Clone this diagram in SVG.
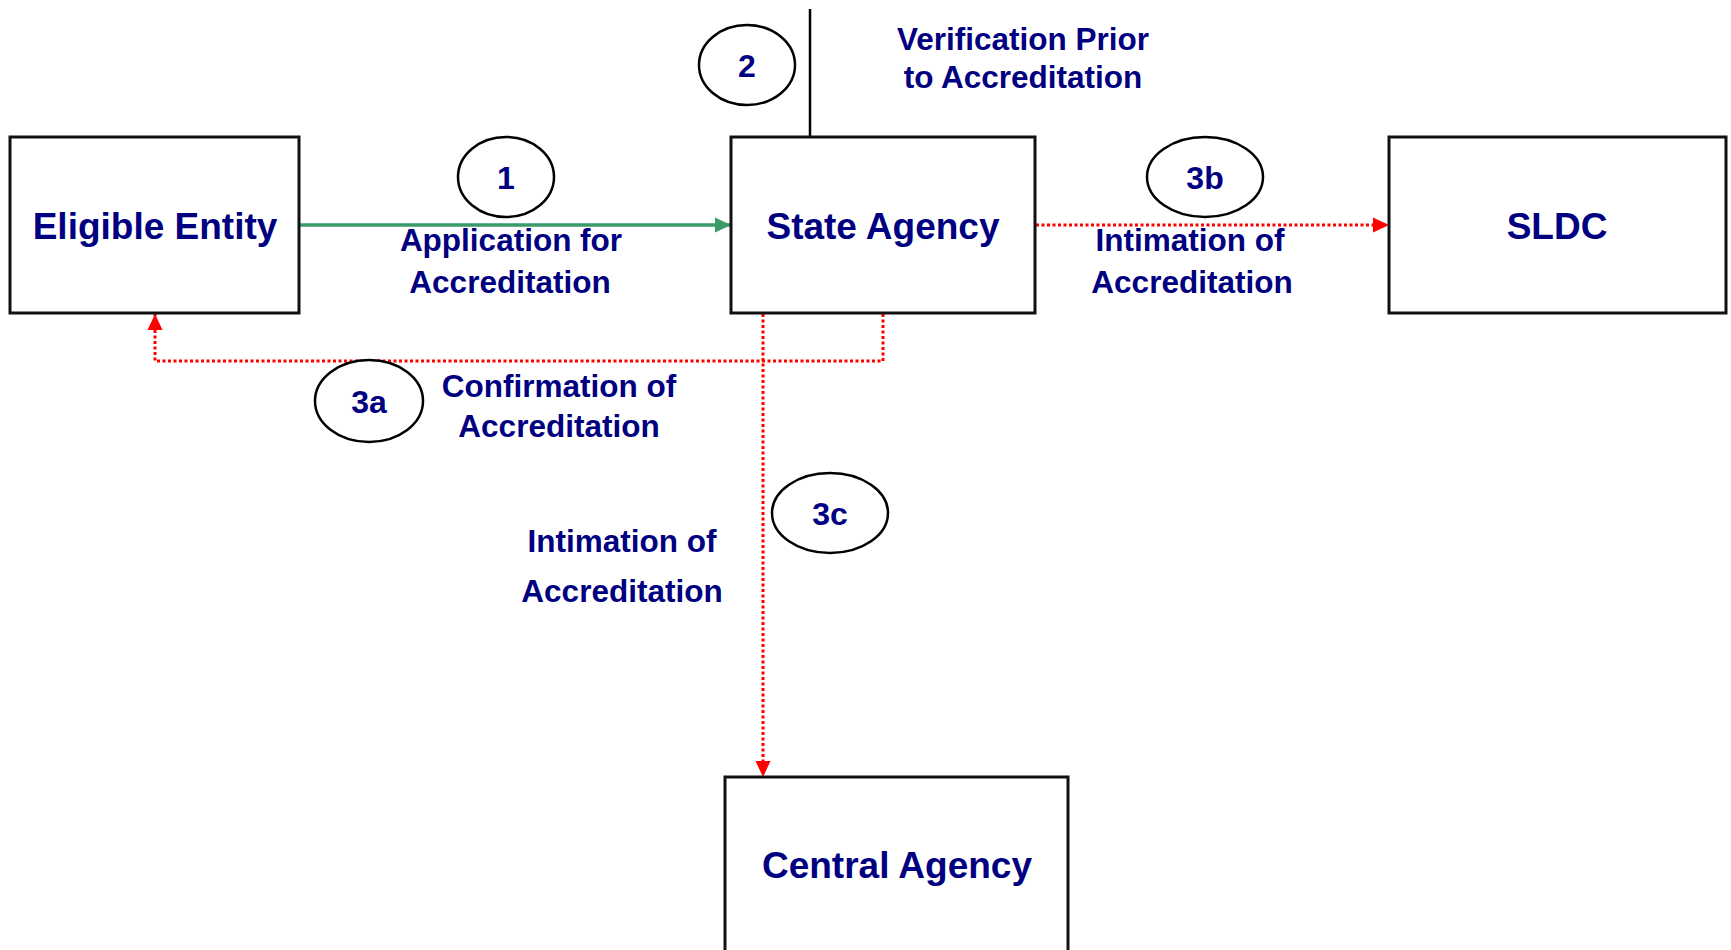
<svg xmlns="http://www.w3.org/2000/svg" width="1731" height="950" viewBox="0 0 1731 950">
<style>
.box{fill:#fff;stroke:#111;stroke-width:3}
.oval{fill:#fff;stroke:#000;stroke-width:2.5}
.big{font-family:"Liberation Sans",Arial,sans-serif;font-weight:bold;font-size:37px;fill:#000080;text-anchor:middle}
.lbl{font-family:"Liberation Sans",Arial,sans-serif;font-weight:bold;font-size:31.5px;fill:#000080;text-anchor:middle}
.num{font-family:"Liberation Sans",Arial,sans-serif;font-weight:bold;font-size:32px;fill:#000080;text-anchor:middle}
.red{fill:none;stroke:#ff0000;stroke-width:3;stroke-dasharray:3 2.5}
</style>
<defs>
<marker id="ag" markerUnits="userSpaceOnUse" markerWidth="18" markerHeight="18" refX="16" refY="9" orient="auto"><path d="M0,1.5 L16,9 L0,16.5 Z" fill="#3a9a68"/></marker>
<marker id="ar" markerUnits="userSpaceOnUse" markerWidth="18" markerHeight="18" refX="16" refY="9" orient="auto"><path d="M0,1.5 L16,9 L0,16.5 Z" fill="#ff0000"/></marker>
</defs>
<rect width="1731" height="950" fill="#fff"/>
<g id="connectors">
<line x1="810" y1="9" x2="810" y2="137" stroke="#000" stroke-width="2.5"/>
<line x1="300" y1="225" x2="731" y2="225" stroke="#3a9a68" stroke-width="3.5" marker-end="url(#ag)"/>
<line x1="1036" y1="225" x2="1389" y2="225" class="red" marker-end="url(#ar)"/>
<polyline points="883,314 883,361 155,361 155,314" class="red" marker-end="url(#ar)"/>
<line x1="763" y1="314" x2="763" y2="777" class="red" marker-end="url(#ar)"/>
</g>
<g id="eligible-entity">
<rect x="10" y="137" width="289" height="176" class="box"/>
<text x="155" y="239" class="big">Eligible Entity</text>
</g>
<g id="state-agency">
<rect x="731" y="137" width="304" height="176" class="box"/>
<text x="883" y="239" class="big">State Agency</text>
</g>
<g id="sldc">
<rect x="1389" y="137" width="337" height="176" class="box"/>
<text x="1557" y="239" class="big">SLDC</text>
</g>
<g id="central-agency">
<rect x="725" y="777" width="343" height="190" class="box"/>
<text x="897" y="878" class="big">Central Agency</text>
</g>
<g id="step-1">
<ellipse cx="506" cy="177" rx="48" ry="40" class="oval"/>
<text x="506" y="189" class="num">1</text>
<text x="511" y="251" class="lbl">Application for</text>
<text x="510" y="293" class="lbl">Accreditation</text>
</g>
<g id="step-2">
<ellipse cx="747" cy="65" rx="48" ry="40" class="oval"/>
<text x="747" y="77" class="num">2</text>
<text x="1023" y="50" class="lbl">Verification Prior</text>
<text x="1023" y="88" class="lbl">to Accreditation</text>
</g>
<g id="step-3a">
<ellipse cx="369" cy="401" rx="54" ry="41" class="oval"/>
<text x="369" y="413" class="num">3a</text>
<text x="559" y="397" class="lbl">Confirmation of</text>
<text x="559" y="437" class="lbl">Accreditation</text>
</g>
<g id="step-3b">
<ellipse cx="1205" cy="177" rx="58" ry="40" class="oval"/>
<text x="1205" y="189" class="num">3b</text>
<text x="1190" y="251" class="lbl">Intimation of</text>
<text x="1192" y="293" class="lbl">Accreditation</text>
</g>
<g id="step-3c">
<ellipse cx="830" cy="513" rx="58" ry="40" class="oval"/>
<text x="830" y="525" class="num">3c</text>
<text x="622" y="552" class="lbl">Intimation of</text>
<text x="622" y="602" class="lbl">Accreditation</text>
</g>
</svg>
